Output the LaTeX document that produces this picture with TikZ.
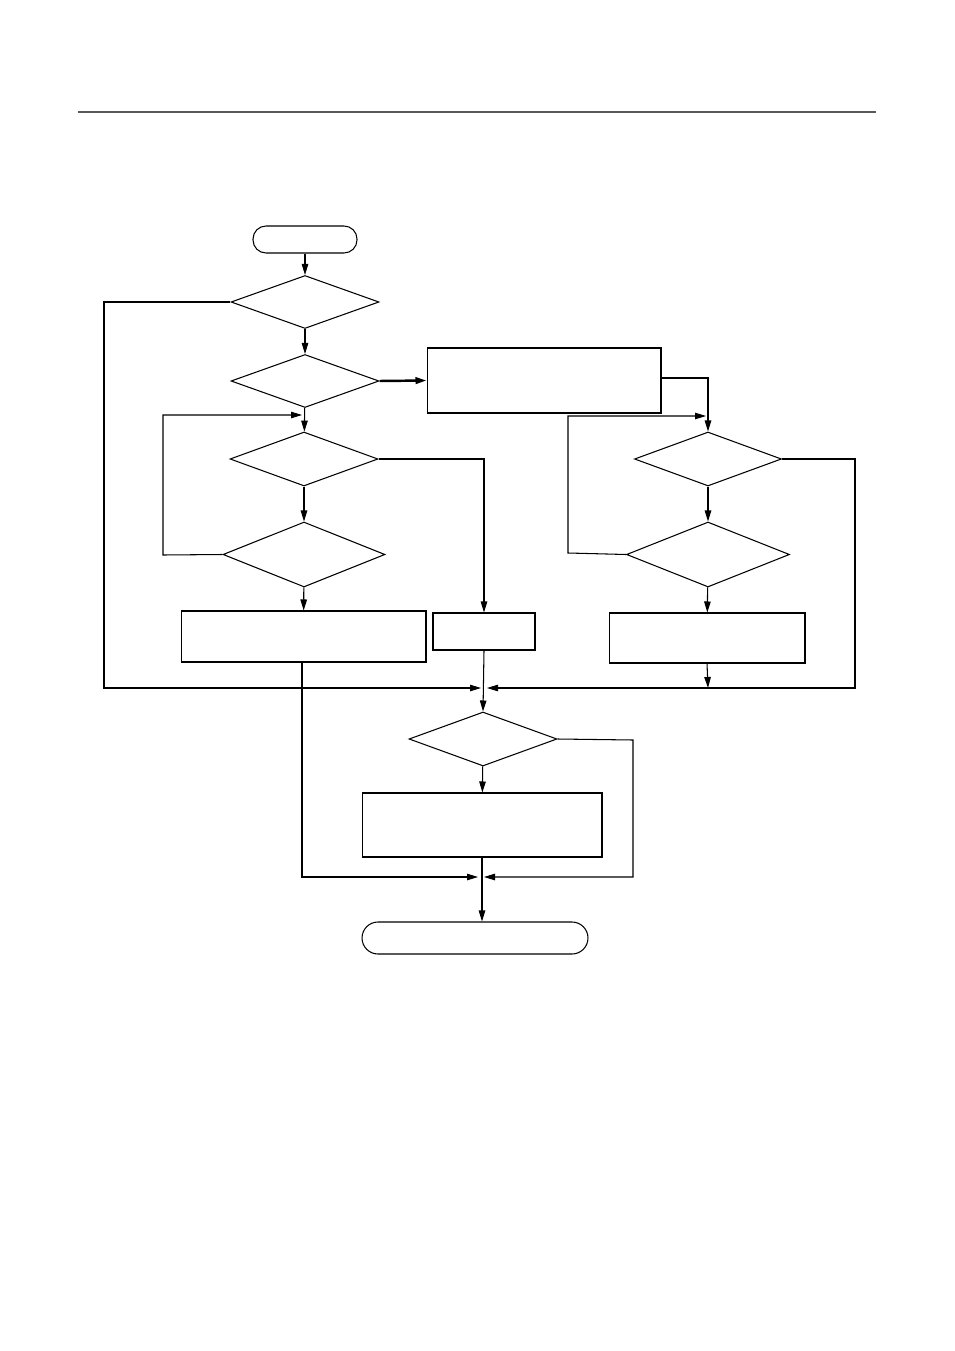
\documentclass[tikz,border=0pt]{standalone}
\usetikzlibrary{shapes.geometric,arrows.meta}
\begin{document}
\begin{tikzpicture}[x=0.02cm,y=-0.02cm,
  line width=0.6pt,
  arr/.style={-{Triangle[length=2.2mm,width=1.3mm]}},
  dia/.style={draw,diamond,inner sep=0pt},
  box/.style={draw,rectangle,inner sep=0pt},
  term/.style={draw,rounded rectangle,inner sep=0pt}]
\useasboundingbox (0,0) rectangle (954,1351);
\usetikzlibrary{shapes.misc}
\draw[gray!70!black,line width=1pt] (78,112) -- (876,112);
\node[draw,rectangle,rounded corners=2.6mm,minimum width=2.08cm,minimum height=0.54cm] (start) at (305,239.5) {};
\node[dia,minimum width=2.96cm,minimum height=1.06cm] (d1) at (305,302) {};
\node[dia,minimum width=2.96cm,minimum height=1.06cm] (d2) at (305,381) {};
\node[box,minimum width=4.68cm,minimum height=1.30cm] (ba) at (544,380.5) {};
\node[dia,minimum width=2.96cm,minimum height=1.08cm] (d3) at (304,459) {};
\node[dia,minimum width=3.24cm,minimum height=1.30cm] (d4) at (304,554.5) {};
\node[box,minimum width=4.90cm,minimum height=1.02cm] (bb) at (303.5,636.5) {};
\node[box,minimum width=2.04cm,minimum height=0.74cm] (bc) at (484,631.5) {};
\node[dia,minimum width=2.94cm,minimum height=1.08cm] (d5) at (708,459) {};
\node[dia,minimum width=3.26cm,minimum height=1.30cm] (d6) at (708,554.5) {};
\node[box,minimum width=3.92cm,minimum height=1.00cm] (bd) at (707,638) {};
\node[dia,minimum width=2.96cm,minimum height=1.08cm] (d7) at (483,739) {};
\node[box,minimum width=4.80cm,minimum height=1.28cm] (be) at (482,825) {};
\node[draw,rectangle,rounded corners=3.2mm,minimum width=4.52cm,minimum height=0.64cm] (end) at (475,938) {};
\coordinate (m1) at (484,688);
\coordinate (m2) at (481,877);
\draw[arr] (start) -- (d1);
\draw[arr] (d1) -- (d2);
\draw[arr] (d1.west) -- (104,302) -- (104,688) -- ([xshift=-0.06cm]m1);
\draw[arr,line width=1.4pt] (d2.east) -- (ba.west);
\draw[arr] (d2) -- (d3);
\draw[arr] (d4.west) -- (163,555) -- (163,415) -- (302,415);
\draw[arr] (d3) -- (d4);
\draw[arr] (d4) -- (bb);
\draw[arr] (d3.east) -- (484,459) -- (bc.north);
\draw[arr] (bc.south) -- (d7.north);
\draw[arr] (ba.east |- 0,378) -- (708,378) -- (d5.north);
\draw[arr] (d6.west) -- (568,553) -- (568,416) -- (706,416);
\draw[arr] (d5) -- (d6);
\draw[arr] (d6) -- (bd);
\draw[arr] (bd.south) -- (708,688);
\draw[arr] (d5.east) -- (855,459) -- (855,688) -- ([xshift=0.06cm]m1);
\draw[arr] (302,662) -- (302,877) -- ([xshift=-0.06cm]m2);
\draw[arr] (d7.east) -- (633,740) -- (633,877) -- ([xshift=0.06cm]m2);
\draw[arr] (d7) -- (be);
\draw[arr] (be.south) -- (end.north -| be.south);
\end{tikzpicture}
\end{document}
